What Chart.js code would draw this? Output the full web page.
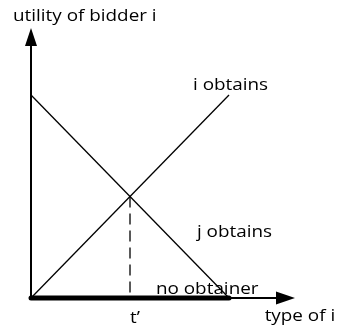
<!DOCTYPE html>
<html>
<head>
<meta charset="utf-8">
<script src="https://cdn.jsdelivr.net/npm/chart.js@4"></script>
<style>
html,body{margin:0;padding:0;background:#fff;}
#wrap{width:338px;height:332px;position:relative;}
</style>
</head>
<body>
<div id="wrap"><canvas id="c" width="338" height="332"></canvas></div>
<script>
// ---- data (abstract units: type of i on x, utility on y) ----
const typeRange = [0, 1];           // x extent of the drawn lines
const iObtainsUtility = [0, 1];     // utility when i obtains (rising)
const jObtainsUtility = [1, 0];     // utility line where j obtains (falling)
const tPrime = 0.5;                 // crossing type t'
const tPrimeUtility = 0.5;          // utility at crossing
const noObtainerRange = [0, 1];     // thick segment on the axis
const axisMax = [1.3333, 1.33];     // x and y axis arrow tips
const labels = {
  yTitle: "utility of bidder i",
  xTitle: "type of i",
  iObt: "i obtains",
  jObt: "j obtains",
  none: "no obtainer",
  tp: "t\u2019"
};
// label anchors in data units
const labelX = [-0.091, 1.18, 0.818, 0.838, 0.631, 0.5];
const labelY = [1.365, -0.113, 1.025, 0.30, 0.02, -0.123];

const FONT = '17px "Open Sans"';
const HSCALE = 1.11;

const arrowPlugin = {
  id: 'arrows',
  afterDatasetsDraw(chart) {
    const ctx = chart.ctx, xs = chart.scales.x, ys = chart.scales.y;
    const ox = xs.getPixelForValue(0), oy = ys.getPixelForValue(0);
    const ty = ys.getPixelForValue(axisMax[1]);
    const tx = xs.getPixelForValue(axisMax[0]);
    ctx.save();
    ctx.fillStyle = '#000';
    ctx.beginPath();
    ctx.moveTo(ox, ty);
    ctx.lineTo(ox - 6, ty + 18);
    ctx.lineTo(ox + 6, ty + 18);
    ctx.closePath();
    ctx.fill();
    ctx.beginPath();
    ctx.moveTo(tx, oy);
    ctx.lineTo(tx - 19, oy - 6.5);
    ctx.lineTo(tx - 19, oy + 6.5);
    ctx.closePath();
    ctx.fill();
    // labels
    ctx.font = FONT;
    ctx.textBaseline = 'alphabetic';
    ctx.textAlign = 'left';
    const keys = ['yTitle','xTitle','iObt','jObt','none','tp'];
    keys.forEach((k, i) => {
      const px = xs.getPixelForValue(labelX[i]), py = ys.getPixelForValue(labelY[i]);
      ctx.save();
      ctx.translate(px, py);
      ctx.scale(HSCALE, 1);
      ctx.fillText(labels[k], 0, 0);
      ctx.restore();
    });
    ctx.restore();
  }
};

const pts = (xa, ya) => xa.map((v, i) => ({x: v, y: ya[i]}));
const base = {showLine: true, pointRadius: 0, borderColor: '#000', clip: false, fill: false};

new Chart(document.getElementById('c'), {
  type: 'scatter',
  data: {
    datasets: [
      {...base, label: 'y axis', data: pts([0, 0], [0, axisMax[1] - 0.05]), borderWidth: 2},
      {...base, label: 'x axis', data: pts([0, axisMax[0] - 0.05], [0, 0]), borderWidth: 2},
      {...base, label: labels.iObt, data: pts(typeRange, iObtainsUtility), borderWidth: 1.3},
      {...base, label: labels.jObt, data: pts(typeRange, jObtainsUtility), borderWidth: 1.3},
      {...base, label: 't', data: pts([tPrime, tPrime], [tPrimeUtility, 0]), borderWidth: 1.3, borderDash: [11, 6]},
      {...base, label: labels.none, data: pts(noObtainerRange, [0, 0]), borderWidth: 5, borderCapStyle: 'round'}
    ]
  },
  options: {
    responsive: false,
    animation: false,
    events: [],
    layout: {padding: {left: 31, right: 43, top: 28, bottom: 34}},
    plugins: {legend: {display: false}, tooltip: {enabled: false}, title: {display: false}},
    scales: {
      x: {type: 'linear', display: false, min: 0, max: axisMax[0]},
      y: {type: 'linear', display: false, min: 0, max: axisMax[1]}
    }
  },
  plugins: [arrowPlugin]
});
</script>
</body>
</html>
